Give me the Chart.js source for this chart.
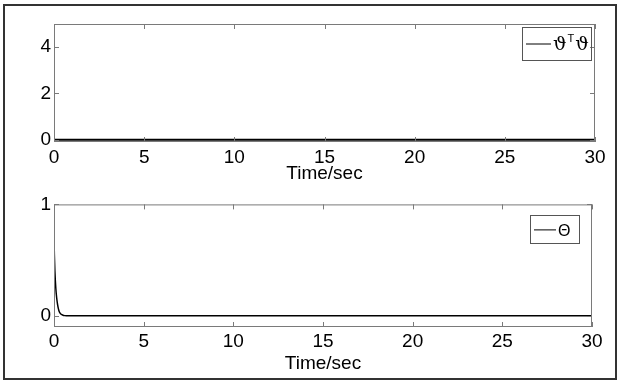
<!DOCTYPE html>
<html>
<head>
<meta charset="utf-8">
<script src="https://cdn.jsdelivr.net/npm/chart.js@4.4.1/dist/chart.umd.min.js"></script>
<style>
  body { margin: 0; background: #fff; }
  #frame { position: absolute; left: 3px; top: 4px; width: 610px; height: 372px; border: 2px solid #333; }
  .holder { position: absolute; left: 0; }
  canvas { display: block; }
</style>
</head>
<body>
<div id="frame"></div>
<div class="holder" style="top:0"><canvas id="topChart" width="619" height="190"></canvas></div>
<div class="holder" style="top:190px"><canvas id="bottomChart" width="619" height="191"></canvas></div>

<script>
// time axis, shared by both panels
const timeTicks = [0, 5, 10, 15, 20, 25, 30];

// upper panel: vartheta^T vartheta (sits on zero the whole run)
const varthetaLabel = 'ϑ^Tϑ';
const varthetaTime = [0, 5, 10, 15, 20, 25, 30];
const varthetaValues = [0, 0, 0, 0, 0, 0, 0];
const topYTicks = [0, 2, 4];

// lower panel: Theta, fast decay near t = 0
const thetaLabel = 'Θ';
const thetaTime = [0, 0.02, 0.05, 0.1, 0.15, 0.2, 0.25, 0.3, 0.4, 0.5, 0.6, 0.8, 1, 30];
const thetaValues = [0.7, 0.55, 0.4, 0.25, 0.16, 0.1, 0.06, 0.035, 0.014, 0.006, 0.002, 0, 0, 0];
const bottomYTicks = [0, 1];

const FONT = '"Liberation Sans", Arial, sans-serif';
const AXIS_GREY = '#7a7a7a';

const toPoints = (xs, ys) => xs.map((x, i) => ({ x: x, y: ys[i] }));

// MATLAB style box with inward ticks + boxed legend in the upper right
const matlabAxes = {
  id: 'matlabAxes',
  afterDatasetsDraw(chart, args, opts) {
    const { ctx, chartArea: a, scales } = chart;
    const tick = 5;
    ctx.save();
    ctx.strokeStyle = AXIS_GREY;
    ctx.lineWidth = 1;
    ctx.strokeRect(a.left + 0.5, a.top + 0.5, a.right - a.left - 1, a.bottom - a.top - 1);
    ctx.beginPath();
    scales.x.ticks.forEach(t => {
      const px = Math.round(scales.x.getPixelForValue(t.value)) + 0.5;
      ctx.moveTo(px, a.bottom); ctx.lineTo(px, a.bottom - tick);
      ctx.moveTo(px, a.top); ctx.lineTo(px, a.top + tick);
    });
    scales.y.ticks.forEach(t => {
      const py = Math.round(scales.y.getPixelForValue(t.value)) + 0.5;
      ctx.moveTo(a.left, py); ctx.lineTo(a.left + tick, py);
      ctx.moveTo(a.right, py); ctx.lineTo(a.right - tick, py);
    });
    ctx.stroke();

    // legend
    const ds = chart.data.datasets[0];
    const bx = a.right - opts.right - opts.width;
    const by = a.top + opts.top;
    ctx.strokeStyle = '#555';
    ctx.strokeRect(Math.round(bx) + 0.5, Math.round(by) + 0.5, opts.width, opts.height);
    const midY = by + opts.height / 2 + 0.5;
    ctx.strokeStyle = '#000';
    ctx.lineWidth = 1;
    ctx.beginPath();
    ctx.moveTo(bx + 4, midY);
    ctx.lineTo(bx + 4 + opts.sample, midY);
    ctx.stroke();
    ctx.fillStyle = '#000';
    ctx.textBaseline = 'alphabetic';
    let tx = bx + 6 + opts.sample;
    const parts = ds.label.split('^');
    ctx.font = opts.font;
    ctx.fillText(parts[0], tx, midY + opts.baseline);
    tx += ctx.measureText(parts[0]).width;
    if (parts.length > 1) {
      ctx.font = '11px ' + FONT;
      ctx.fillText(parts[1][0], tx + 1, midY - 2);
      tx += ctx.measureText(parts[1][0]).width + 2;
      ctx.font = opts.font;
      ctx.fillText(parts[1].slice(1), tx, midY + opts.baseline);
    }
    ctx.restore();
  }
};

function makeChart(id, cfg) {
  return new Chart(document.getElementById(id), {
    type: 'line',
    data: {
      datasets: [{
        label: cfg.label,
        data: toPoints(cfg.xs, cfg.ys),
        borderColor: '#000',
        borderWidth: cfg.lineWidth,
        pointRadius: 0,
        tension: 0,
        cubicInterpolationMode: 'monotone',
        fill: false
      }]
    },
    options: {
      responsive: false,
      animation: false,
      events: [],
      layout: { padding: cfg.padding },
      plugins: {
        legend: { display: false },
        tooltip: { enabled: false },
        matlabAxes: cfg.legend
      },
      scales: {
        x: {
          type: 'linear',
          min: 0,
          max: 30,
          grid: { display: false, drawTicks: false },
          border: { display: false },
          afterBuildTicks: s => { s.ticks = timeTicks.map(v => ({ value: v })); },
          afterFit: s => { s.height = cfg.xHeight; },
          ticks: {
            color: '#000',
            padding: cfg.xPad,
            maxRotation: 0,
            font: { family: FONT, size: 19, lineHeight: 1.2 }
          },
          title: {
            display: true,
            text: 'Time/sec',
            color: '#000',
            padding: { top: 0, bottom: cfg.titlePad },
            font: { family: FONT, size: 19, lineHeight: 1.2 }
          }
        },
        y: {
          min: cfg.yMin,
          max: cfg.yMax,
          grid: { display: false, drawTicks: false },
          border: { display: false },
          afterBuildTicks: s => { s.ticks = cfg.yTicks.map(v => ({ value: v })); },
          afterFit: s => { s.width = 54; },
          ticks: {
            color: '#000',
            padding: 3,
            font: { family: FONT, size: 19, lineHeight: 1.2 }
          }
        }
      }
    },
    plugins: [matlabAxes]
  });
}

makeChart('topChart', {
  label: varthetaLabel,
  xs: varthetaTime,
  ys: varthetaValues,
  yTicks: topYTicks,
  yMin: -0.1,
  yMax: 5,
  lineWidth: 2,
  padding: { top: 24, right: 24, left: 0, bottom: 0 },
  xHeight: 48,
  xPad: 4,
  titlePad: 5,
  legend: { right: 4, top: 3, width: 69, height: 33, sample: 25, font: '19px "DejaVu Serif", "Liberation Serif", serif', baseline: 6 }
});

makeChart('bottomChart', {
  label: thetaLabel,
  xs: thetaTime,
  ys: thetaValues,
  yTicks: bottomYTicks,
  yMin: -0.1,
  yMax: 1,
  lineWidth: 1.5,
  padding: { top: 2, right: 27, left: 0, bottom: 0 },
  xHeight: 54,
  xPad: 3,
  titlePad: 6,
  legend: { right: 13, top: 11, width: 49, height: 28, sample: 22, font: '16px ' + FONT, baseline: 6 }
});
</script>
</body>
</html>
